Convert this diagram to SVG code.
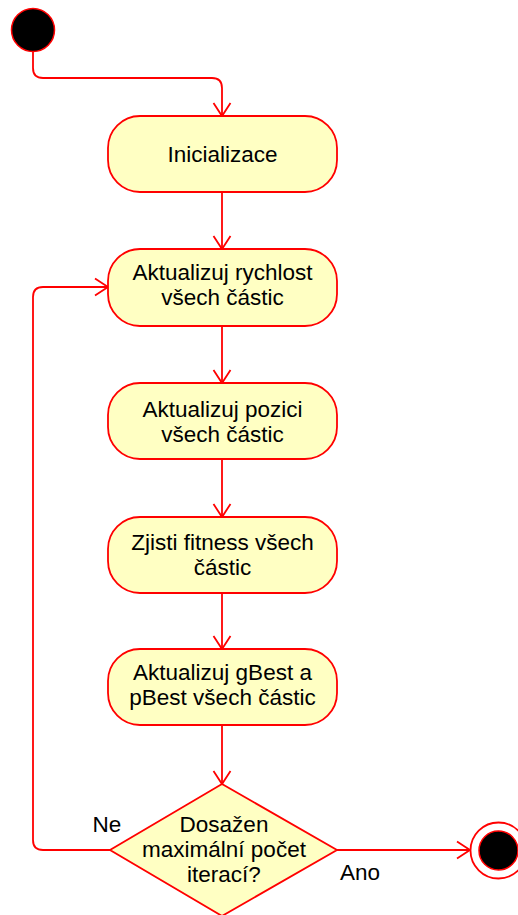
<svg xmlns="http://www.w3.org/2000/svg" width="518" height="915" viewBox="0 0 518 915">
<style>
.node{fill:#ffffc3;stroke:#ff0000;stroke-width:1.8}
.t{font-family:"Liberation Sans",Arial,sans-serif;font-size:22.5px;fill:#000;text-anchor:middle}
.c{fill:none;stroke:#ff0000;stroke-width:1.8}
</style>
<defs>
<marker id="arr" markerUnits="userSpaceOnUse" markerWidth="30" markerHeight="30" viewBox="-15 -15 30 30" refX="0" refY="0" orient="auto" overflow="visible">
<path d="M-13,-8.5 L0,0 L-13,8.5" fill="none" stroke="#ff0000" stroke-width="1.8"/>
</marker>
</defs>
<rect width="518" height="915" fill="#ffffff"/>
<g id="connectors">
<path class="c" d="M33,52 V68 Q33,78 43,78 H212 Q222,78 222,88 V116" marker-end="url(#arr)"/>
<path class="c" d="M222,192 V249" marker-end="url(#arr)"/>
<path class="c" d="M222,326 V383" marker-end="url(#arr)"/>
<path class="c" d="M222,459 V517" marker-end="url(#arr)"/>
<path class="c" d="M222,593 V649" marker-end="url(#arr)"/>
<path class="c" d="M222,725 V784" marker-end="url(#arr)"/>
<path class="c" d="M110,850 H43 Q33,850 33,840 V297 Q33,287 43,287 H108" marker-end="url(#arr)"/>
<path class="c" d="M337,850 H470" marker-end="url(#arr)"/>
<text class="t" x="107" y="832">Ne</text>
<text class="t" x="360" y="880">Ano</text>
</g>
<g id="start">
<circle cx="33" cy="30" r="21.5" fill="#000" stroke="#ff0000" stroke-width="1.5"/>
</g>
<g id="inicializace">
<rect class="node" x="108" y="116" width="229" height="76" rx="32" ry="32"/>
<text class="t" x="222.5" y="162">Inicializace</text>
</g>
<g id="rychlost">
<rect class="node" x="108" y="249" width="229" height="77" rx="32" ry="32"/>
<text class="t" x="222.5" y="280">Aktualizuj rychlost</text>
<text class="t" x="222.5" y="305">všech částic</text>
</g>
<g id="pozice">
<rect class="node" x="108" y="383" width="229" height="76" rx="32" ry="32"/>
<text class="t" x="222.5" y="417">Aktualizuj pozici</text>
<text class="t" x="222.5" y="442">všech částic</text>
</g>
<g id="fitness">
<rect class="node" x="108" y="517" width="229" height="76" rx="32" ry="32"/>
<text class="t" x="222.5" y="550">Zjisti fitness všech</text>
<text class="t" x="222.5" y="575">částic</text>
</g>
<g id="best">
<rect class="node" x="108" y="649" width="229" height="76" rx="32" ry="32"/>
<text class="t" x="222.5" y="680">Aktualizuj gBest a</text>
<text class="t" x="222.5" y="705">pBest všech částic</text>
</g>
<g id="decision">
<polygon class="node" points="222,784 337,850 222,916 110,850"/>
<text class="t" x="224" y="832">Dosažen</text>
<text class="t" x="224" y="857">maximální počet</text>
<text class="t" x="224" y="882">iterací?</text>
</g>
<g id="end">
<circle cx="498.5" cy="850.5" r="28" fill="#fff" stroke="#ff0000" stroke-width="1.8"/>
<circle cx="498.5" cy="850.5" r="19.5" fill="#000" stroke="#ff0000" stroke-width="1.5"/>
</g>
</svg>
